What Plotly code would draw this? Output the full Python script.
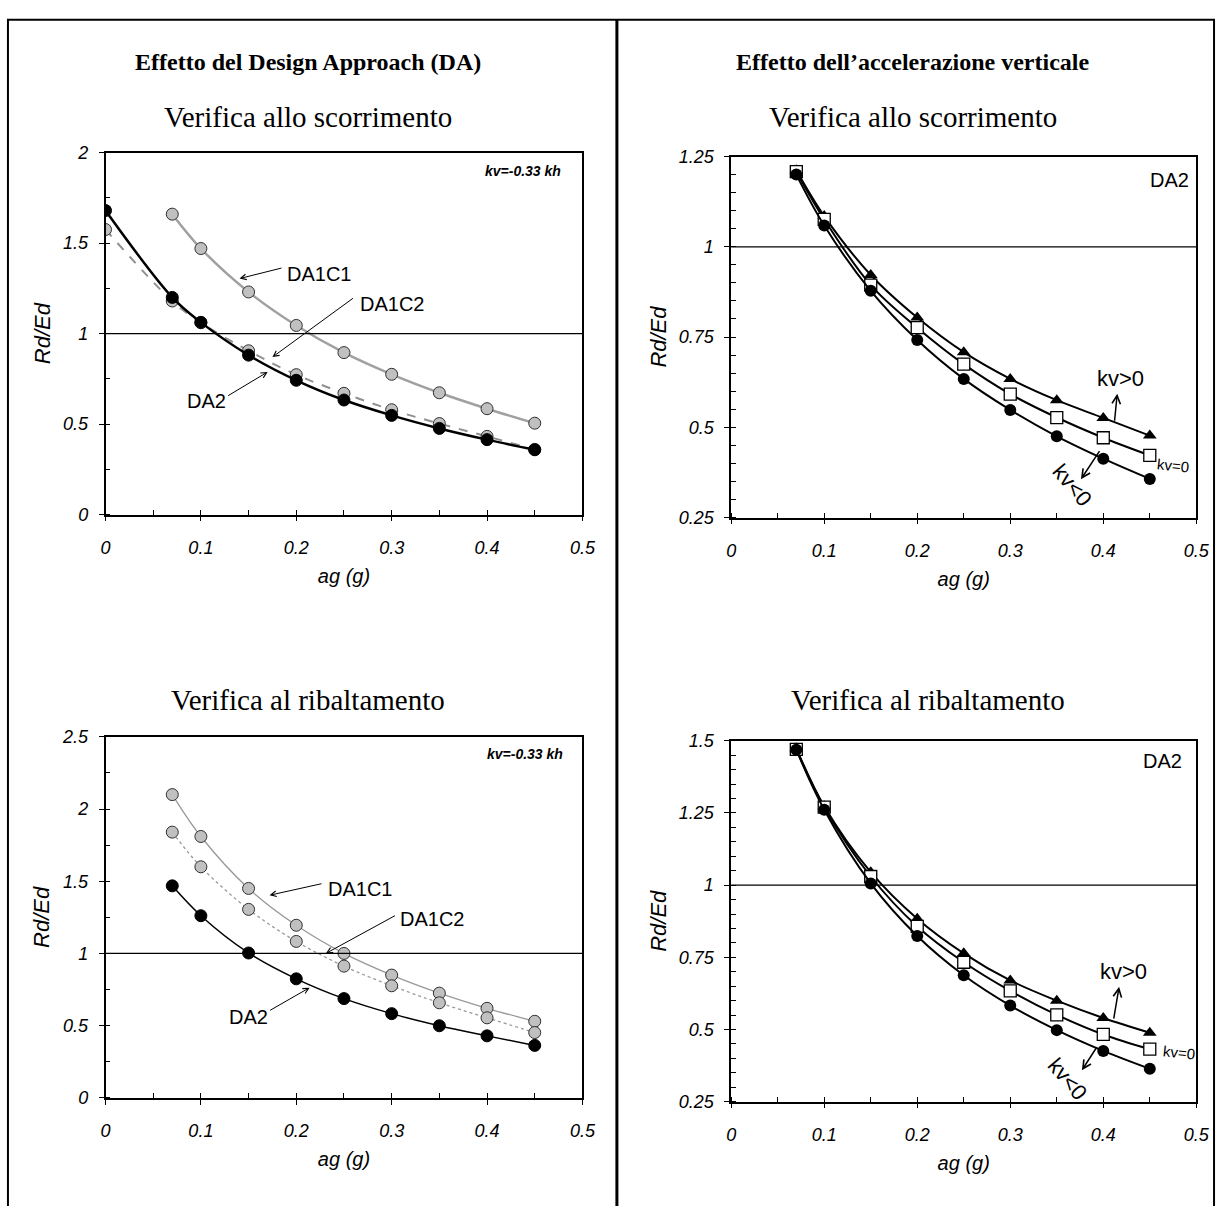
import plotly.graph_objects as go

# ---------------- data ----------------
AG0 = [0.0, 0.07, 0.10, 0.15, 0.20, 0.25, 0.30, 0.35, 0.40, 0.45]
AG = [0.07, 0.10, 0.15, 0.20, 0.25, 0.30, 0.35, 0.40, 0.45]

# Verifica allo scorrimento - Design Approach
sc_DA1C1 = [1.66, 1.47, 1.23, 1.045, 0.895, 0.775, 0.673, 0.585, 0.505]
sc_DA1C2 = [1.575, 1.18, 1.06, 0.905, 0.773, 0.67, 0.579, 0.503, 0.432, 0.36]
sc_DA2 = [1.68, 1.20, 1.062, 0.881, 0.742, 0.633, 0.548, 0.476, 0.414, 0.358]

# Verifica al ribaltamento - Design Approach
rb_DA1C1 = [2.10, 1.81, 1.45, 1.195, 1.0, 0.85, 0.725, 0.62, 0.53]
rb_DA1C2 = [1.84, 1.60, 1.305, 1.083, 0.912, 0.776, 0.658, 0.554, 0.452]
rb_DA2 = [1.468, 1.261, 1.003, 0.824, 0.687, 0.583, 0.499, 0.429, 0.363]

# Verifica allo scorrimento - accelerazione verticale (DA2)
sc_kvpos = [1.212, 1.085, 0.922, 0.804, 0.708, 0.634, 0.575, 0.526, 0.477]
sc_kv0 = [1.208, 1.076, 0.894, 0.776, 0.675, 0.592, 0.527, 0.471, 0.422]
sc_kvneg = [1.20, 1.059, 0.878, 0.742, 0.634, 0.548, 0.475, 0.413, 0.357]

# Verifica al ribaltamento - accelerazione verticale (DA2)
rb_kvpos = [1.474, 1.273, 1.045, 0.884, 0.764, 0.67, 0.60, 0.54, 0.489]
rb_kv0 = [1.47, 1.27, 1.03, 0.857, 0.733, 0.634, 0.551, 0.483, 0.432]
rb_kvneg = [1.469, 1.261, 1.006, 0.824, 0.688, 0.583, 0.498, 0.426, 0.364]

X_TICKS = [0, 0.1, 0.2, 0.3, 0.4, 0.5]

# ---------------- layout helpers ----------------
W, H = 1229, 1216
def px_x(p):
    return p / W
def px_y(p):
    return 1 - p / H

SANS = "Liberation Sans, Arial, sans-serif"
SERIF = "Liberation Serif, Times New Roman, serif"
tickfont = dict(family=SANS, size=18, color="black", style="italic")

def xaxis(domain, anchor):
    return dict(domain=domain, anchor=anchor, range=[0, 0.5], tickvals=X_TICKS,
                showline=True, linecolor="black", linewidth=1.5, mirror=True,
                ticks="outside", ticklen=5, tickcolor="black", tickwidth=1,
                minor=dict(dtick=0.05, ticks="inside", ticklen=5, tickcolor="black", tickwidth=1),
                showgrid=False, zeroline=False, tickfont=tickfont, ticklabelstandoff=11,
                title=dict(text="ag (g)", font=dict(family=SANS, size=20, style="italic", color="black"),
                           standoff=12))

def yaxis(domain, anchor, rng, dtick, minor):
    return dict(domain=domain, anchor=anchor, range=rng, dtick=dtick, tick0=rng[0],
                showline=True, linecolor="black", linewidth=1.5, mirror=True,
                ticks="outside", ticklen=5, tickcolor="black", tickwidth=1,
                minor=dict(dtick=minor, ticks="inside", ticklen=5, tickcolor="black", tickwidth=1),
                showgrid=False, zeroline=False, tickfont=tickfont, ticklabelstandoff=7,
                title=dict(text="Rd/Ed", font=dict(family=SANS, size=22, style="italic", color="black"),
                           standoff=6))

XL = [px_x(102), px_x(586)]
XR = [px_x(737), px_x(1209)]
YT_L = [px_y(513), px_y(145)]
YT_R = [px_y(516), px_y(149)]
YB_L = [px_y(1106), px_y(739)]
YB_R = [px_y(1110), px_y(743)]

fig = go.Figure()

gray_marker = dict(symbol="circle", size=12, color="#c0c0c0", line=dict(color="#303030", width=1))
black_marker = dict(symbol="circle", size=12, color="black", line=dict(color="black", width=1))

# ---- top-left: scorrimento DA ----
fig.add_trace(go.Scatter(x=AG, y=sc_DA1C1, xaxis="x", yaxis="y", mode="lines+markers",
                         line=dict(color="#a0a0a0", width=2.5, shape="spline"), marker=gray_marker, name="DA1C1"))
fig.add_trace(go.Scatter(x=AG0, y=sc_DA1C2, xaxis="x", yaxis="y", mode="lines+markers",
                         line=dict(color="#909090", width=2, dash="dash", shape="spline"), marker=gray_marker, name="DA1C2"))
fig.add_trace(go.Scatter(x=AG0, y=sc_DA2, xaxis="x", yaxis="y", mode="lines+markers",
                         line=dict(color="black", width=2.5, shape="spline"), marker=black_marker, name="DA2"))

# ---- bottom-left: ribaltamento DA ----
fig.add_trace(go.Scatter(x=AG, y=rb_DA1C1, xaxis="x3", yaxis="y3", mode="lines+markers",
                         line=dict(color="#999999", width=1.3, shape="spline"), marker=gray_marker, name="DA1C1"))
fig.add_trace(go.Scatter(x=AG, y=rb_DA1C2, xaxis="x3", yaxis="y3", mode="lines+markers",
                         line=dict(color="#999999", width=1.3, dash="dot", shape="spline"), marker=gray_marker, name="DA1C2"))
fig.add_trace(go.Scatter(x=AG, y=rb_DA2, xaxis="x3", yaxis="y3", mode="lines+markers",
                         line=dict(color="black", width=1.5, shape="spline"), marker=black_marker, name="DA2"))

# ---- right plots ----
tri = dict(symbol="triangle-up", size=12, color="black")
sqm = dict(symbol="square", size=12, color="white", line=dict(color="black", width=1.3))
circ = dict(symbol="circle", size=12, color="black")
for xa, ya, pos, zero, neg in [("x2", "y2", sc_kvpos, sc_kv0, sc_kvneg),
                               ("x4", "y4", rb_kvpos, rb_kv0, rb_kvneg)]:
    fig.add_trace(go.Scatter(x=AG, y=pos, xaxis=xa, yaxis=ya, mode="lines+markers",
                             line=dict(color="black", width=2, shape="spline"), marker=tri, name="kv>0"))
    fig.add_trace(go.Scatter(x=AG, y=zero, xaxis=xa, yaxis=ya, mode="lines+markers",
                             line=dict(color="black", width=2, shape="spline"), marker=sqm, name="kv=0"))
    fig.add_trace(go.Scatter(x=AG, y=neg, xaxis=xa, yaxis=ya, mode="lines+markers",
                             line=dict(color="black", width=2, shape="spline"), marker=circ, name="kv<0"))

fig.update_layout(
    width=W, height=H, margin=dict(l=0, r=0, t=0, b=0),
    paper_bgcolor="white", plot_bgcolor="white", showlegend=False,
    font=dict(color="black", family=SANS),
    xaxis=xaxis(XL, "y"), yaxis=yaxis(YT_L, "x", [0, 2], 0.5, 0.25),
    xaxis2=xaxis(XR, "y2"), yaxis2=yaxis(YT_R, "x2", [0.25, 1.25], 0.25, 0.05),
    xaxis3=xaxis(XL, "y3"), yaxis3=yaxis(YB_L, "x3", [0, 2.5], 0.5, 0.25),
    xaxis4=xaxis(XR, "y4"), yaxis4=yaxis(YB_R, "x4", [0.25, 1.5], 0.25, 0.05),
)

shapes = []
# reference line Rd/Ed = 1
for xa, ya in [("x", "y"), ("x2", "y2"), ("x3", "y3"), ("x4", "y4")]:
    shapes.append(dict(type="line", xref=xa + " domain", yref=ya, x0=0, x1=1, y0=1, y1=1,
                       line=dict(color="black", width=1.2)))
# outer frame
shapes.append(dict(type="line", xref="paper", yref="paper", x0=px_x(2), x1=px_x(1228), y0=px_y(10), y1=px_y(10),
                   line=dict(color="black", width=2)))
shapes.append(dict(type="line", xref="paper", yref="paper", x0=px_x(3), x1=px_x(3), y0=0, y1=px_y(10),
                   line=dict(color="black", width=2)))
shapes.append(dict(type="line", xref="paper", yref="paper", x0=px_x(1227), x1=px_x(1227), y0=0, y1=px_y(10),
                   line=dict(color="black", width=2)))
shapes.append(dict(type="line", xref="paper", yref="paper", x0=px_x(621), x1=px_x(621), y0=0, y1=px_y(10),
                   line=dict(color="black", width=3)))
fig.update_layout(shapes=shapes)

ann = []
def text(x, y, t, xref="paper", yref="paper", size=18, family=SANS, bold=False, italic=False, angle=0, xanchor="center"):
    f = dict(family=family, size=size, color="black")
    if bold:
        f["weight"] = "bold"
    if italic:
        f["style"] = "italic"
    ann.append(dict(x=x, y=y, xref=xref, yref=yref, text=t, showarrow=False, font=f,
                    textangle=angle, xanchor=xanchor, yanchor="middle"))

def arrow(x, y, ax, ay, xref, yref, width=1):
    ann.append(dict(x=x, y=y, ax=ax, ay=ay, xref=xref, yref=yref, axref=xref, ayref=yref,
                    text="", showarrow=True, arrowhead=5, arrowsize=1.1, arrowwidth=width,
                    arrowcolor="black", standoff=0, startstandoff=0))

# panel titles
text(px_x(308), px_y(53), "Effetto del Design Approach (DA)", family=SERIF, size=24, bold=True)
text(px_x(921), px_y(53), "Effetto dell\u2019accelerazione verticale", family=SERIF, size=24, bold=True)
text(px_x(308), px_y(109), "Verifica allo scorrimento", family=SERIF, size=29)
text(px_x(921), px_y(109), "Verifica allo scorrimento", family=SERIF, size=29)
text(px_x(308), px_y(702), "Verifica al ribaltamento", family=SERIF, size=29)
text(px_x(937), px_y(702), "Verifica al ribaltamento", family=SERIF, size=29)

# top-left annotations
text(0.438, 1.90, "kv=-0.33 kh", "x", "y", size=14, bold=True, italic=True)
text(0.224, 1.33, "DA1C1", "x", "y", size=20)
arrow(0.1405, 1.304, 0.186, 1.364, "x", "y")
text(0.30, 1.163, "DA1C2", "x", "y", size=20)
arrow(0.175, 0.87, 0.261, 1.201, "x", "y")
text(0.106, 0.625, "DA2", "x", "y", size=20)
arrow(0.170, 0.788, 0.127, 0.652, "x", "y")

# bottom-left annotations
text(0.44, 2.38, "kv=-0.33 kh", "x3", "y3", size=14, bold=True, italic=True)
text(0.267, 1.444, "DA1C1", "x3", "y3", size=20)
arrow(0.172, 1.403, 0.228, 1.485, "x3", "y3")
text(0.342, 1.24, "DA1C2", "x3", "y3", size=20)
arrow(0.231, 1.0, 0.305, 1.267, "x3", "y3")
text(0.150, 0.559, "DA2", "x3", "y3", size=20)
arrow(0.214, 0.763, 0.171, 0.60, "x3", "y3")

# top-right annotations
text(0.471, 1.185, "DA2", "x2", "y2", size=20)
text(0.418, 0.634, "kv>0", "x2", "y2", size=22)
arrow(0.415, 0.593, 0.412, 0.514, "x2", "y2", 1.5)
text(0.455, 0.394, "kv=0", "x2", "y2", size=15, xanchor="left", angle=6)
text(0.367, 0.34, "kv<0", "x2", "y2", size=22, angle=50)
arrow(0.376, 0.356, 0.397, 0.438, "x2", "y2", 1.5)

# bottom-right annotations
text(0.464, 1.43, "DA2", "x4", "y4", size=20)
text(0.422, 0.70, "kv>0", "x4", "y4", size=22)
arrow(0.417, 0.648, 0.411, 0.533, "x4", "y4", 1.5)
text(0.461, 0.42, "kv=0", "x4", "y4", size=15, xanchor="left", angle=6)
text(0.362, 0.328, "kv<0", "x4", "y4", size=22, angle=50)
arrow(0.377, 0.359, 0.394, 0.444, "x4", "y4", 1.5)

fig.update_layout(annotations=ann)
fig.write_html("out.html")
